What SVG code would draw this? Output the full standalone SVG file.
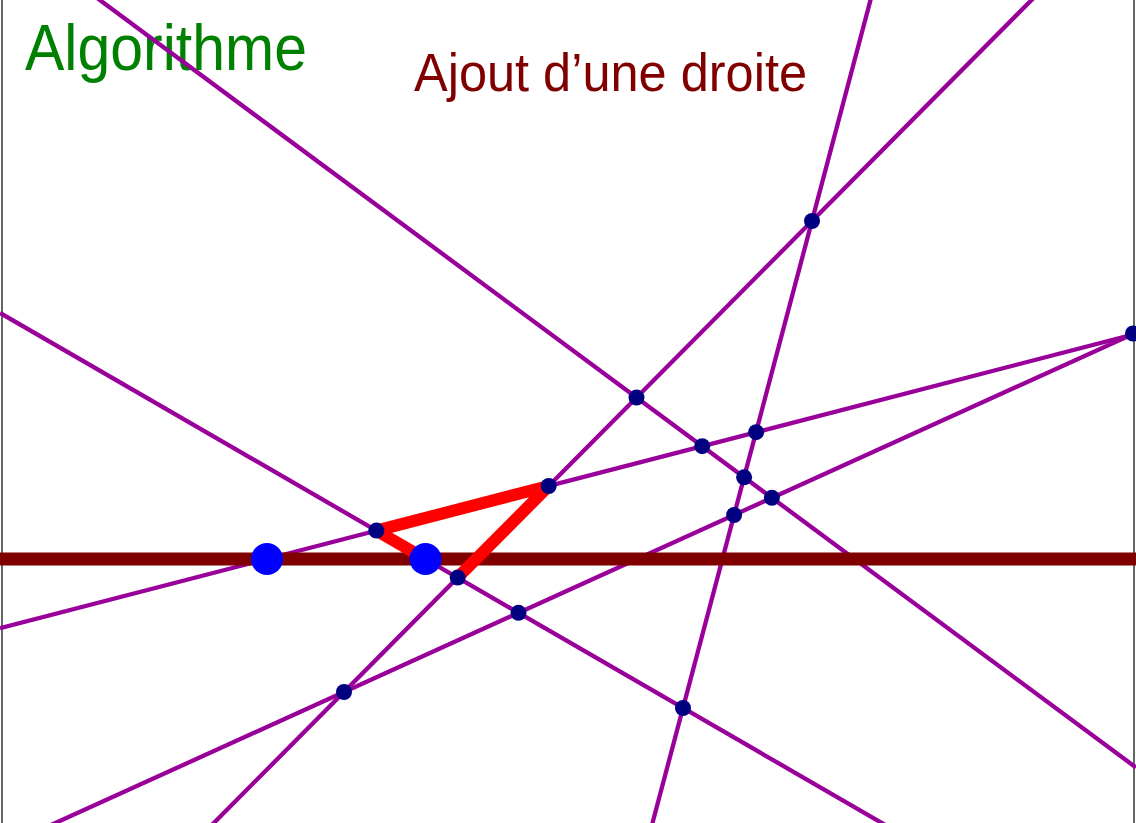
<svg xmlns="http://www.w3.org/2000/svg" width="1136" height="823" viewBox="0 0 1136 823">
<style>
.ln{stroke:#990099;stroke-width:4.3;fill:none}
.frame{stroke:#333;stroke-width:1.5}
.pt{fill:#000080}
.big{fill:#0000ff}
.t{font-family:"Liberation Sans","DejaVu Sans",sans-serif}
</style>
<rect width="1136" height="823" fill="#fff"/>
<line class="frame" x1="2" y1="0" x2="2" y2="823"/>
<line class="frame" x1="1134" y1="0" x2="1134" y2="823"/>
<g id="title"><text class="t" x="25" y="70" font-size="65" fill="#008000" textLength="282" lengthAdjust="spacingAndGlyphs">Algorithme</text></g>
<g id="subtitle"><text class="t" x="414" y="91" font-size="53" fill="#800000" textLength="393" lengthAdjust="spacingAndGlyphs">Ajout d’une droite</text></g>
<g id="connectors">
<line class="ln" x1="0" y1="-73.9" x2="1136" y2="767.5"/>
<line class="ln" x1="0" y1="312.9" x2="1136" y2="970"/>
<line class="ln" x1="0" y1="628.2" x2="1136" y2="333.8"/>
<line class="ln" x1="0" y1="848.1" x2="1136" y2="332.6"/>
<line class="ln" x1="0" y1="1038.2" x2="1136" y2="-105.1"/>
<line class="ln" x1="875.8" y1="-20" x2="647.2" y2="843"/>
<line id="new-line" x1="0" y1="559" x2="1136" y2="559" stroke="#800000" stroke-width="13"/>
<polyline id="face" points="425.5,559 376.4,530.6 548.7,486 457.7,577.6" fill="none" stroke="#ff0000" stroke-width="12" stroke-linejoin="round"/>
</g>
<g id="n-AC"><circle class="pt" cx="702.2" cy="446.2" r="8"/></g>
<g id="n-AD"><circle class="pt" cx="771.9" cy="497.8" r="8"/></g>
<g id="n-AE"><circle class="pt" cx="636.5" cy="397.6" r="8"/></g>
<g id="n-AF"><circle class="pt" cx="744.1" cy="477.3" r="8"/></g>
<g id="n-BC"><circle class="pt" cx="376.4" cy="530.6" r="8"/></g>
<g id="n-BD"><circle class="pt" cx="518.5" cy="612.8" r="8"/></g>
<g id="n-BE"><circle class="pt" cx="457.7" cy="577.6" r="8"/></g>
<g id="n-BF"><circle class="pt" cx="683" cy="708" r="8"/></g>
<g id="n-CD"><circle class="pt" cx="1133" cy="333.5" r="8"/></g>
<g id="n-CE"><circle class="pt" cx="548.7" cy="486" r="8"/></g>
<g id="n-CF"><circle class="pt" cx="756.1" cy="432.2" r="8"/></g>
<g id="n-DE"><circle class="pt" cx="344" cy="692" r="8"/></g>
<g id="n-DF"><circle class="pt" cx="734.1" cy="515" r="8"/></g>
<g id="n-EF"><circle class="pt" cx="812" cy="221" r="8"/></g>
<g id="n-H1"><circle class="big" cx="267" cy="559" r="16"/></g>
<g id="n-H2"><circle class="big" cx="425.5" cy="559" r="16"/></g>
</svg>
